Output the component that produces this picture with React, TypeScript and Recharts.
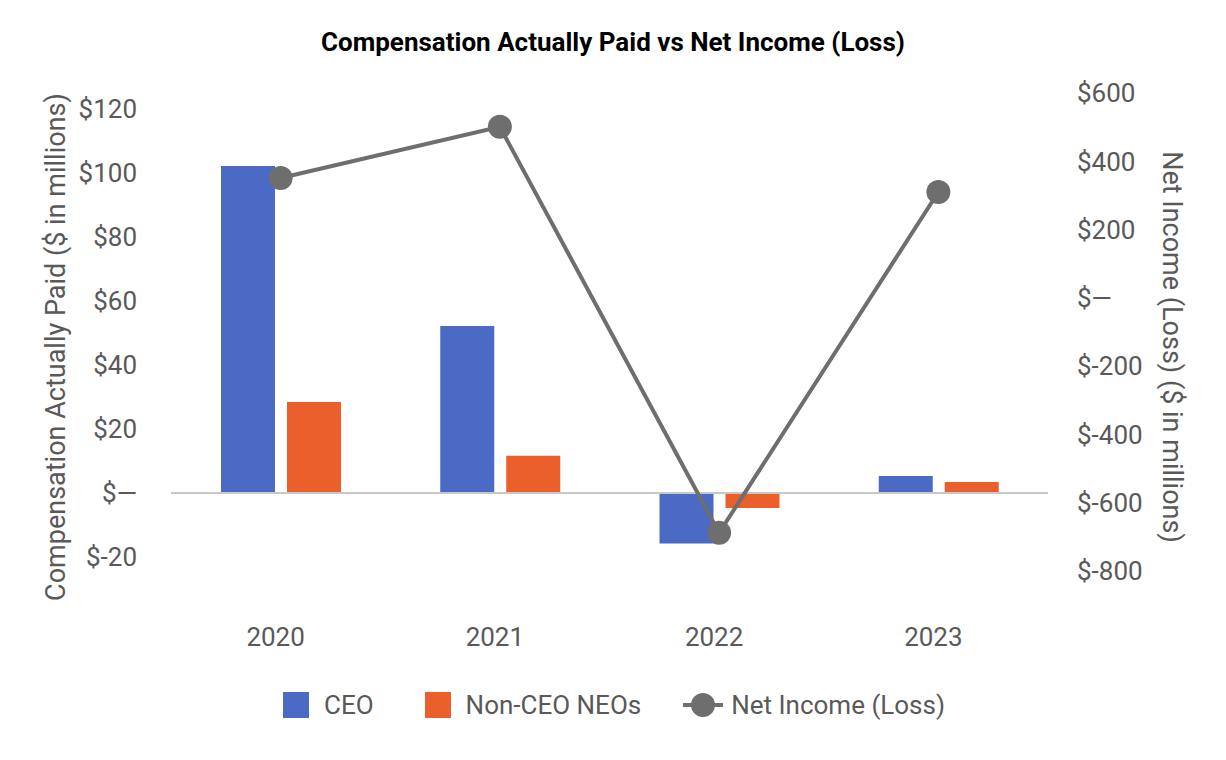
import React from "react";
import {
  ComposedChart,
  Bar,
  Line,
  XAxis,
  YAxis,
  ReferenceLine,
} from "recharts";

const years = ["2020", "2021", "2022", "2023"];
const ceoPay = [102.2, 52.2, -15.8, 5.3];
const neoPay = [28.4, 11.6, -4.7, 3.4];
const netIncome = [351, 501, -688, 310];

const leftTicks = [-20, 0, 20, 40, 60, 80, 100, 120];
const rightTicks = [-800, -600, -400, -200, 0, 200, 400, 600];

const BLUE = "#4a6ac6";
const ORANGE = "#ea5f2b";
const GRAY = "#6e6e6e";
const TEXT = "#595959";
const FONT = "Roboto, sans-serif";

const data = years.map((year, i) => ({
  year,
  ceo: ceoPay[i],
  neo: neoPay[i],
  net: netIncome[i],
}));

const money = (v: number) => (v === 0 ? "$\u2014" : `$${v}`);

const tickStyle = { fill: TEXT, fontSize: 26, fontFamily: FONT };

function LegendRow() {
  return (
    <div
      style={{
        position: "absolute",
        top: 692,
        left: 283,
        display: "flex",
        alignItems: "center",
        fontFamily: FONT,
        fontSize: 26,
        color: TEXT,
        lineHeight: "26px",
      }}
    >
      <span style={{ width: 26, height: 26, background: BLUE, display: "inline-block" }} />
      <span style={{ marginLeft: 15 }}>CEO</span>
      <span
        style={{ width: 26, height: 26, background: ORANGE, display: "inline-block", marginLeft: 51 }}
      />
      <span style={{ marginLeft: 15 }}>Non-CEO NEOs</span>
      <svg width={40} height={26} style={{ marginLeft: 42 }}>
        <line x1={0} y1={13} x2={40} y2={13} stroke={GRAY} strokeWidth={4} />
        <circle cx={20} cy={13} r={12} fill={GRAY} />
      </svg>
      <span style={{ marginLeft: 8 }}>Net Income (Loss)</span>
    </div>
  );
}

export default function App() {
  return (
    <div
      style={{
        position: "absolute",
        left: 0,
        top: 0,
        width: 1226,
        height: 760,
        background: "#fff",
        fontFamily: FONT,
      }}
    >
      <div
        style={{
          position: "absolute",
          top: 28,
          width: 1226,
          textAlign: "center",
          fontSize: 26,
          fontWeight: 700,
          lineHeight: "28px",
          color: "#000",
        }}
      >
        Compensation Actually Paid vs Net Income (Loss)
      </div>
      <ComposedChart
        width={1226}
        height={760}
        data={data}
        margin={{ top: 93, right: 0, bottom: 109, left: 0 }}
        barGap={12}
      >
        <XAxis
          dataKey="year"
          axisLine={false}
          tickLine={false}
          tickSize={0}
          tickMargin={57}
          height={80}
          tick={{ ...tickStyle, dx: -5 }}
        />
        <YAxis
          yAxisId="left"
          orientation="left"
          width={171}
          domain={[-24.4, 125]}
          ticks={leftTicks}
          tickFormatter={money}
          axisLine={false}
          tickLine={false}
          tickSize={0}
          tickMargin={34}
          tick={tickStyle}
          label={{
            value: "Compensation Actually Paid ($ in millions)",
            angle: -90,
            position: "center",
            dx: -30,
            dy: 15,
            fill: TEXT,
            fontSize: 27,
            fontFamily: FONT,
          }}
        />
        <YAxis
          yAxisId="right"
          orientation="right"
          width={178}
          domain={[-800, 600]}
          ticks={rightTicks}
          tickFormatter={money}
          axisLine={false}
          tickLine={false}
          tickSize={0}
          tickMargin={29}
          tick={tickStyle}
          label={{
            value: "Net Income (Loss) ($ in millions)",
            angle: 90,
            position: "center",
            dx: 36,
            dy: 15,
            fill: TEXT,
            fontSize: 27,
            fontFamily: FONT,
          }}
        />
        <ReferenceLine yAxisId="left" y={0} stroke="#c8c8c8" strokeWidth={2} />
        <Bar yAxisId="left" dataKey="ceo" name="CEO" fill={BLUE} barSize={54} isAnimationActive={false} />
        <Bar yAxisId="left" dataKey="neo" name="Non-CEO NEOs" fill={ORANGE} barSize={54} isAnimationActive={false} />
        <Line
          yAxisId="right"
          dataKey="net"
          name="Net Income (Loss)"
          type="linear"
          stroke={GRAY}
          strokeWidth={4}
          dot={{ r: 12, fill: GRAY, stroke: "none" }}
          activeDot={false}
          isAnimationActive={false}
        />
      </ComposedChart>
      <LegendRow />
    </div>
  );
}
